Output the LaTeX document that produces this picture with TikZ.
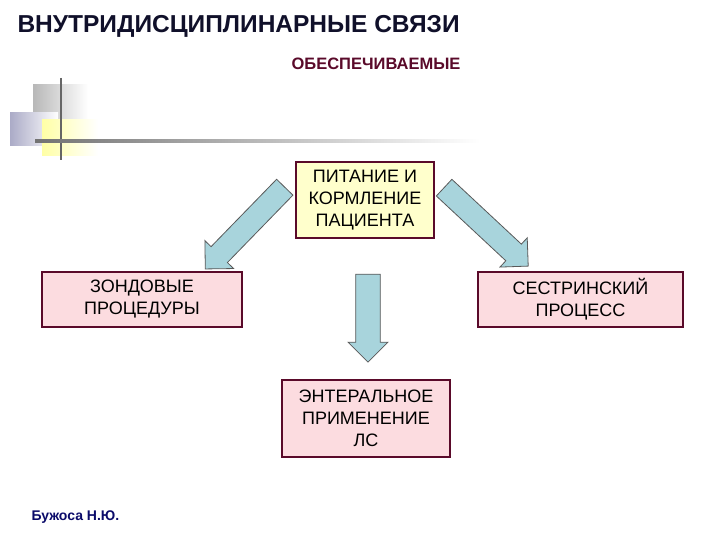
\documentclass[tikz,border=0pt]{standalone}
\usepackage{fontspec}
\setmainfont{Liberation Sans}
\usetikzlibrary{shapes.arrows}
\definecolor{maroon}{HTML}{5A0A2A}
\definecolor{ttl}{HTML}{10102A}
\definecolor{ylw}{HTML}{FFFFCC}
\definecolor{pnk}{HTML}{FCDCE0}
\definecolor{arr}{HTML}{A8D4DC}
\tikzset{
 box/.style={draw=maroon,line width=1.8pt,align=center,font=\fontsize{18}{22}\selectfont,inner sep=0pt},
 fat/.style={single arrow,draw=gray!70!black,fill=arr,line width=0.8pt,minimum width=40pt,single arrow head indent=0pt,inner sep=0pt},
}
\begin{document}
\begin{tikzpicture}[x=1pt,y=-1pt]
\useasboundingbox[fill=white] (0,0) rectangle (720,540);
% decoration
\shade[left color=black!28,right color=white] (33,85) rectangle (88,135);
\shade[left color=blue!20!gray!55,right color=white] (10,113) rectangle (58,146);
\shade[left color=yellow!35,right color=white] (42,120) rectangle (98,156);
\draw[gray!80!black,line width=2pt] (61,78) -- (61,160);
\shade[left color=gray!90!black,right color=white] (35,140) rectangle (480,142.5);
% titles
\node[anchor=west,font=\bfseries\fontsize{24.5}{27}\selectfont,text=ttl] (t) at (14,26) {ВНУТРИДИСЦИПЛИНАРНЫЕ СВЯЗИ};
\node[font=\bfseries\fontsize{16.5}{19}\selectfont,text=maroon] (s) at (376,64) {ОБЕСПЕЧИВАЕМЫЕ};
% boxes
\node[box,fill=ylw,minimum width=138pt,minimum height=76pt] (p) at (365,200) {ПИТАНИЕ И\\КОРМЛЕНИЕ\\ПАЦИЕНТА};
\node[box,fill=pnk,minimum width=200pt,minimum height=55pt] (z) at (142,299.5) {ЗОНДОВЫЕ\\ПРОЦЕДУРЫ};
\node[box,fill=pnk,minimum width=205pt,minimum height=55pt] (c) at (580.5,299.5) {СЕСТРИНСКИЙ\\ПРОЦЕСС};
\node[box,fill=pnk,minimum width=168pt,minimum height=77pt] (e) at (366,418.5) {ЭНТЕРАЛЬНОЕ\\ПРИМЕНЕНИЕ\\ЛС};
% arrows
\node[fat,minimum height=114pt,rotate=225.8] (a1) at (249,224) {\rule{0pt}{18pt}};
\node[fat,minimum height=88pt,rotate=270] (a2) at (368,312) {\rule{0pt}{22pt}};
\node[fat,minimum height=115pt,rotate=-43] (a3) at (482,223) {\rule{0pt}{18pt}};
% footer
\node[anchor=west,font=\bfseries\fontsize{14}{16}\selectfont,text=ttl!70!blue] (f) at (28,517) {Бужоса Н.Ю.};
\end{tikzpicture}
\end{document}
